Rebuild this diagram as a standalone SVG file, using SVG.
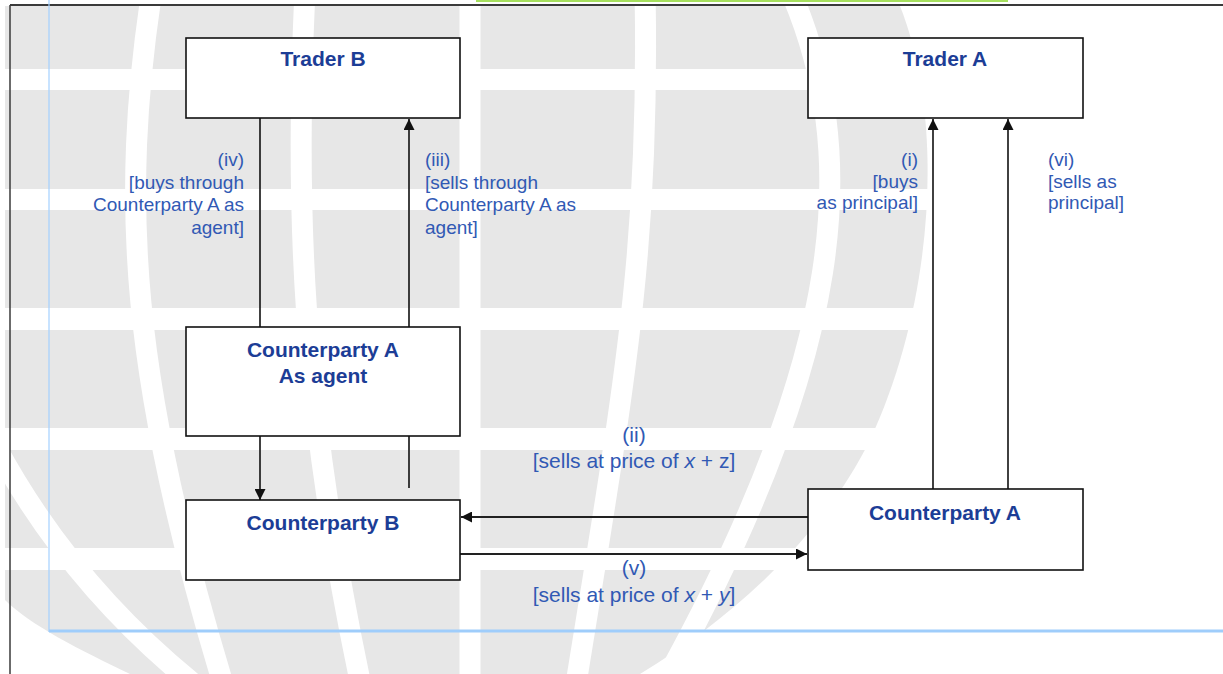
<svg xmlns="http://www.w3.org/2000/svg" width="1223" height="674" viewBox="0 0 1223 674">
  <style>
    .box { fill: #ffffff; stroke: #111111; stroke-width: 1.6; }
    .title { font-family: "Liberation Sans", Arial, sans-serif; font-weight: bold; font-size: 21px; fill: #1c3d96; text-anchor: middle; }
    .lbl { font-family: "Liberation Sans", Arial, sans-serif; font-size: 19px; fill: #3159b4; }
    .r { text-anchor: end; }
    .l { text-anchor: start; }
    .lbl2 { font-family: "Liberation Sans", Arial, sans-serif; font-size: 21px; fill: #3159b4; text-anchor: middle; }
    .v { stroke: #111111; stroke-width: 1.6; fill: none; }
    .h { stroke: #222222; stroke-width: 2.2; fill: none; }
    .mer { stroke: #ffffff; stroke-width: 21; fill: none; }
  </style>
  <defs>
    <marker id="arr" viewBox="0 0 10 10" refX="10" refY="5" markerWidth="11" markerHeight="11" markerUnits="userSpaceOnUse" orient="auto">
      <path d="M0,0 L10,5 L0,10 Z" fill="#111111"/>
    </marker>
  </defs>

  <rect x="0" y="0" width="1223" height="674" fill="#ffffff"/>

  <g id="watermark">
    <path d="M 5 6 L 900 6 C 945 120, 935 300, 870 440 C 820 540, 730 620, 640 674 L 130 674 C 80 650, 30 625, 5 600 Z" fill="#e7e7e7"/>
    <rect x="0" y="69" width="1223" height="21" fill="#ffffff"/>
    <rect x="0" y="189" width="1223" height="21" fill="#ffffff"/>
    <rect x="0" y="308" width="1223" height="22" fill="#ffffff"/>
    <rect x="0" y="428" width="1223" height="22" fill="#ffffff"/>
    <rect x="0" y="548" width="1223" height="22" fill="#ffffff"/>
    <path class="mer" d="M -5 445 C 30 510, 90 600, 195 685"/>
    <path class="mer" d="M 152 -10 C 120 200, 130 380, 225 690"/>
    <path class="mer" d="M 305 -10 C 295 200, 300 400, 362 690"/>
    <path class="mer" d="M 470 -10 L 470 690"/>
    <path class="mer" d="M 645 -10 C 650 250, 625 380, 575 690"/>
    <path class="mer" d="M 790 -10 C 860 150, 850 350, 660 690"/>
  </g>

  <g id="frame">
    <rect x="476" y="0" width="532" height="2" fill="#a6e05e"/>
    <line x1="10" y1="5" x2="1223" y2="5" stroke="#3a3a3a" stroke-width="2"/>
    <line x1="10" y1="5" x2="10" y2="674" stroke="#3a3a3a" stroke-width="1.5"/>
    <line x1="49" y1="0" x2="49" y2="632" stroke="#a3d1ff" stroke-width="1.2"/>
    <line x1="49" y1="631" x2="1223" y2="631" stroke="#9fcdfb" stroke-width="3"/>
  </g>

  <g id="connectors">
    <line class="v" x1="260" y1="118" x2="260" y2="327"/>
    <line class="v" x1="409" y1="327" x2="409" y2="119" marker-end="url(#arr)"/>
    <line class="v" x1="260" y1="436" x2="260" y2="500" marker-end="url(#arr)"/>
    <line class="v" x1="409" y1="436" x2="409" y2="488"/>
    <line class="h" x1="808" y1="517" x2="461" y2="517" marker-end="url(#arr)"/>
    <line class="h" x1="460" y1="554" x2="807" y2="554" marker-end="url(#arr)"/>
    <line class="v" x1="933" y1="489" x2="933" y2="119" marker-end="url(#arr)"/>
    <line class="v" x1="1008" y1="489" x2="1008" y2="119" marker-end="url(#arr)"/>
  </g>

  <g id="trader-b">
    <rect class="box" x="186" y="38" width="274" height="80"/>
    <text class="title" x="323" y="66">Trader B</text>
  </g>
  <g id="trader-a">
    <rect class="box" x="808" y="38" width="275" height="80"/>
    <text class="title" x="945" y="66">Trader A</text>
  </g>
  <g id="counterparty-a-agent">
    <rect class="box" x="186" y="327" width="274" height="109"/>
    <text class="title" x="323" y="357">Counterparty A</text>
    <text class="title" x="323" y="383">As agent</text>
  </g>
  <g id="counterparty-b">
    <rect class="box" x="186" y="500" width="274" height="80"/>
    <text class="title" x="323" y="530">Counterparty B</text>
  </g>
  <g id="counterparty-a">
    <rect class="box" x="808" y="489" width="275" height="81"/>
    <text class="title" x="945" y="520">Counterparty A</text>
  </g>

  <g id="labels">
    <text class="lbl r" x="244" y="166">(iv)</text>
    <text class="lbl r" x="244" y="188.5">[buys through</text>
    <text class="lbl r" x="244" y="211">Counterparty A as</text>
    <text class="lbl r" x="244" y="233.5">agent]</text>

    <text class="lbl l" x="425" y="166">(iii)</text>
    <text class="lbl l" x="425" y="188.5">[sells through</text>
    <text class="lbl l" x="425" y="211">Counterparty A as</text>
    <text class="lbl l" x="425" y="233.5">agent]</text>

    <text class="lbl r" x="918" y="166">(i)</text>
    <text class="lbl r" x="918" y="187.5">[buys</text>
    <text class="lbl r" x="918" y="209">as principal]</text>

    <text class="lbl l" x="1048" y="166">(vi)</text>
    <text class="lbl l" x="1048" y="187.5">[sells as</text>
    <text class="lbl l" x="1048" y="209">principal]</text>

    <text class="lbl2" x="634" y="442">(ii)</text>
    <text class="lbl2" x="634" y="468">[sells at price of <tspan font-style="italic">x</tspan> + z]</text>
    <text class="lbl2" x="634" y="575">(v)</text>
    <text class="lbl2" x="634" y="602">[sells at price of <tspan font-style="italic">x</tspan> + <tspan font-style="italic">y</tspan>]</text>
  </g>
</svg>
